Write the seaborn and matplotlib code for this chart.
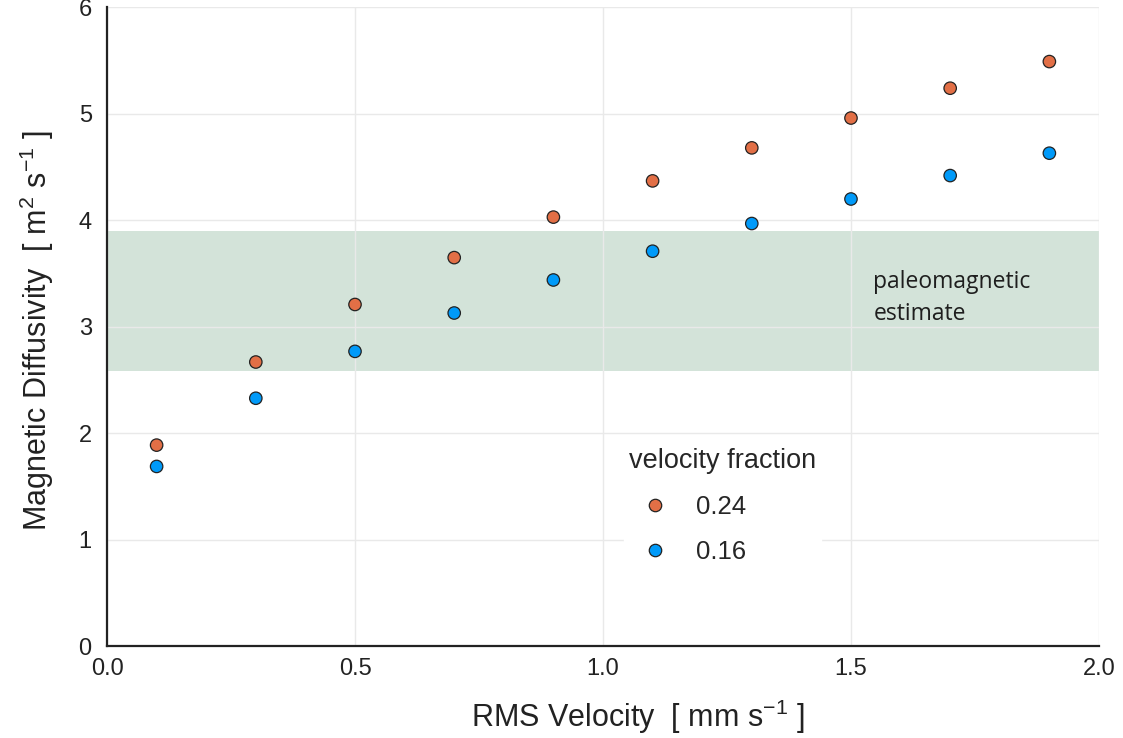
import matplotlib
matplotlib.use("Agg")
import matplotlib.pyplot as plt
import seaborn as sns
import pandas as pd

# RMS velocity (mm/s) and the resulting magnetic diffusivity for two velocity fractions
rms_velocity = [0.1, 0.3, 0.5, 0.7, 0.9, 1.1, 1.3, 1.5, 1.7, 1.9]
diffusivity_024 = [1.89, 2.67, 3.21, 3.65, 4.03, 4.37, 4.68, 4.96, 5.24, 5.49]
diffusivity_016 = [1.69, 2.33, 2.77, 3.13, 3.44, 3.71, 3.97, 4.20, 4.42, 4.63]
fractions = ["0.24", "0.16"]
palette_colors = ["#E26F46", "#009AF9"]
x_ticks = [0.0, 0.5, 1.0, 1.5, 2.0]
x_tick_labels = ["0.0", "0.5", "1.0", "1.5", "2.0"]
y_ticks = [0, 1, 2, 3, 4, 5, 6]

# paleomagnetic estimate band (m^2/s)
band_low, band_high = 2.59, 3.90

df = pd.concat([
    pd.DataFrame({"v": rms_velocity, "eta": diffusivity_024, "frac": fractions[0]}),
    pd.DataFrame({"v": rms_velocity, "eta": diffusivity_016, "frac": fractions[1]}),
])

sns.set_theme(style="white")
plt.rcParams["font.family"] = ["Liberation Sans", "DejaVu Sans"]
plt.rcParams["mathtext.fontset"] = "custom"
plt.rcParams["mathtext.rm"] = "Liberation Sans"
plt.rcParams["mathtext.it"] = "Liberation Sans:italic"
plt.rcParams["mathtext.bf"] = "Liberation Sans:bold"

fig = plt.figure(figsize=(11.23, 7.38), dpi=100)
ax = fig.add_axes([0.0953, 0.124, 0.8833, 0.8662])

ax.axhspan(band_low, band_high, color="#d3e3d9", zorder=0, lw=0)

sns.scatterplot(data=df, x="v", y="eta", hue="frac", hue_order=fractions,
                palette=palette_colors, s=80, edgecolor="#222222", linewidth=0.9,
                ax=ax, zorder=3)

ax.set_xlim(0, 2)
ax.set_ylim(0, 6)
ax.set_xticks(x_ticks)
ax.set_xticklabels(x_tick_labels)
ax.set_yticks(y_ticks)

ax.grid(True, color="#e9e9e9", linewidth=1.0, zorder=1)
ax.set_axisbelow(True)
for side in ["top", "right"]:
    ax.spines[side].set_visible(False)
for side in ["left", "bottom"]:
    ax.spines[side].set_color("#222222")
    ax.spines[side].set_linewidth(1.6)

ax.tick_params(axis="both", direction="in", length=5, width=1.4, color="#222222",
               labelsize=17, labelcolor="#222222")
ax.tick_params(axis="x", pad=8)
ax.tick_params(axis="y", pad=11)

ax.set_xlabel(r"RMS Velocity  [ mm s$^{-1}$ ]", fontsize=22, color="#222222")
ax.xaxis.set_label_coords(0.535, -0.080)
ax.set_ylabel(r"Magnetic Diffusivity  [ m$^{2}$ s$^{-1}$ ]", fontsize=22, color="#222222")
ax.yaxis.set_label_coords(-0.051, 0.495)

ax.text(1.545, 3.06, "paleomagnetic\nestimate", fontsize=16.5, color="#1e1e1e",
        family=["Open Sans", "DejaVu Sans"], linespacing=1.45, zorder=4)

handles, labels = ax.get_legend_handles_labels()
leg = ax.legend(handles, labels, title="velocity fraction", loc="upper left",
                bbox_to_anchor=(0.521, 0.318), frameon=True, fontsize=18.5,
                title_fontsize=19.5, alignment="left", handlelength=2.0,
                handletextpad=0.6, labelspacing=0.82, borderpad=0.2,
                borderaxespad=0.0)
leg.get_frame().set_edgecolor("white")
leg.get_frame().set_facecolor("white")
leg.get_frame().set_alpha(1.0)
leg.set_zorder(5)
leg._legend_box.sep = 15

fig.savefig("out.png", dpi=100)
